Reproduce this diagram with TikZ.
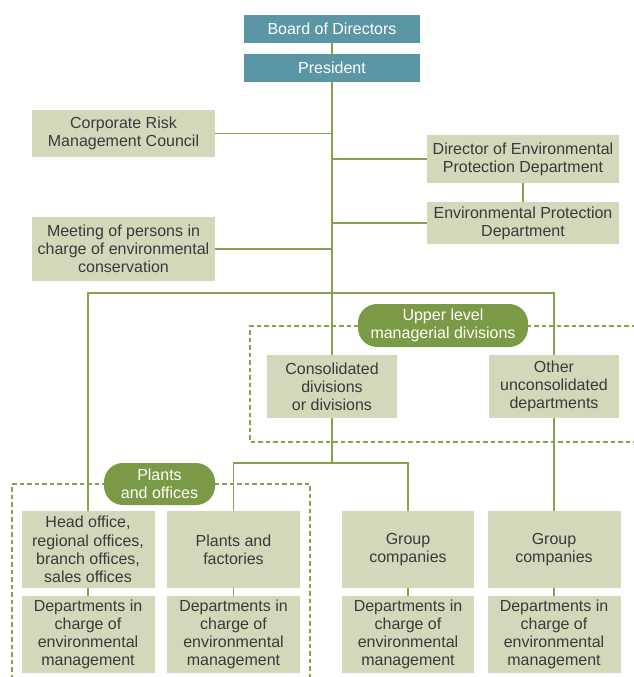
\documentclass[tikz,border=0pt]{standalone}
\usepackage{fontspec}
\setmainfont{Liberation Sans}
\definecolor{tealc}{HTML}{5B96A6}
\definecolor{boxc}{HTML}{D3D8BA}
\definecolor{pillc}{HTML}{7B9A45}
\definecolor{linec}{HTML}{86A24C}
\definecolor{txtc}{HTML}{3A3A3A}
\tikzset{
  base/.style={inner sep=0pt, align=center, font=\fontsize{16}{18.2}\selectfont},
  topbox/.style={base, fill=tealc, text=white, minimum width=176pt, minimum height=28pt},
  sagebox/.style={base, fill=boxc, text=txtc},
  pill/.style={base, fill=pillc, text=white, rounded corners=19pt},
  conn/.style={draw=linec, line width=1.5pt},
  dashframe/.style={draw=linec, line width=1.5pt, dash pattern=on 4.5pt off 3pt}
}
\begin{document}
\begin{tikzpicture}[x=1pt,y=-1pt]
\useasboundingbox (0,0) rectangle (634,677);
% dashed frames
\draw[dashframe] (636,326) -- (250,326) -- (250,442) -- (636,442);
\draw[dashframe] (12,679) -- (12,484) -- (310,484) -- (310,679);
% connector anchors
\coordinate (hline) at (0,293);
\coordinate (split) at (0,463);
% nodes
\node[topbox] (board) at (332,29) {Board of Directors};
\node[topbox] (pres) at (332,68) {President};
\node[sagebox, minimum width=183pt, minimum height=47pt] (risk) at (123.5,133.5) {Corporate Risk\\Management Council};
\node[sagebox, minimum width=192pt, minimum height=48pt] (dir) at (523,159) {Director of Environmental\\Protection Department};
\node[sagebox, minimum width=192pt, minimum height=42pt] (epd) at (523,223) {Environmental Protection\\Department};
\node[sagebox, minimum width=183pt, minimum height=64pt] (meet) at (123.5,249) {Meeting of persons in\\charge of environmental\\conservation};
\node[pill, minimum width=170pt, minimum height=43pt] (upper) at (443,325.5) {Upper level\\managerial divisions};
\node[sagebox, minimum width=130pt, minimum height=63pt] (cons) at (332,386.5) {Consolidated\\divisions\\or divisions};
\node[sagebox, minimum width=130pt, minimum height=63pt] (other) at (554,386.5) {Other\\unconsolidated\\departments};
\node[pill, minimum width=111pt, minimum height=42pt] (plantsp) at (159.5,484) {Plants\\and offices};
\node[sagebox, minimum width=133pt, minimum height=77pt] (head) at (88,549.5) {Head office,\\regional offices,\\branch offices,\\sales offices};
\node[sagebox, minimum width=133pt, minimum height=77pt] (plf) at (233.5,549.5) {Plants and\\factories};
\node[sagebox, minimum width=132pt, minimum height=77pt] (gc1) at (408,549.5) {Group\\companies};
\node[sagebox, minimum width=133pt, minimum height=77pt] (gc2) at (554,549.5) {Group\\companies};
\node[sagebox, minimum width=133pt, minimum height=77pt] (d1) at (88,634.5) {Departments in\\charge of\\environmental\\management};
\node[sagebox, minimum width=133pt, minimum height=77pt] (d2) at (233.5,634.5) {Departments in\\charge of\\environmental\\management};
\node[sagebox, minimum width=132pt, minimum height=77pt] (d3) at (408,634.5) {Departments in\\charge of\\environmental\\management};
\node[sagebox, minimum width=133pt, minimum height=77pt] (d4) at (554,634.5) {Departments in\\charge of\\environmental\\management};
% connectors
\draw[conn] (board.south) -- (pres.north);
\draw[conn] (pres.south) -- (cons.north);
\draw[conn] (risk.east) -- (risk.east -| pres.south);
\draw[conn] (dir.west) -- (dir.west -| pres.south);
\draw[conn] (epd.west) -- (epd.west -| pres.south);
\draw[conn] (meet.east) -- (meet.east -| pres.south);
\draw[conn] (dir.south) -- (epd.north);
\draw[conn] (head.north) -- (head.north |- hline) -- (other.north |- hline) -- (other.north);
\draw[conn] (other.south) -- (gc2.north);
\draw[conn] (cons.south) -- (cons.south |- split);
\draw[conn] (plf.north) -- (plf.north |- split) -- (gc1.north |- split) -- (gc1.north);
\draw[conn] (head.south) -- (d1.north);
\draw[conn] (plf.south) -- (d2.north);
\draw[conn] (gc1.south) -- (d3.north);
\draw[conn] (gc2.south) -- (d4.north);
\end{tikzpicture}
\end{document}
